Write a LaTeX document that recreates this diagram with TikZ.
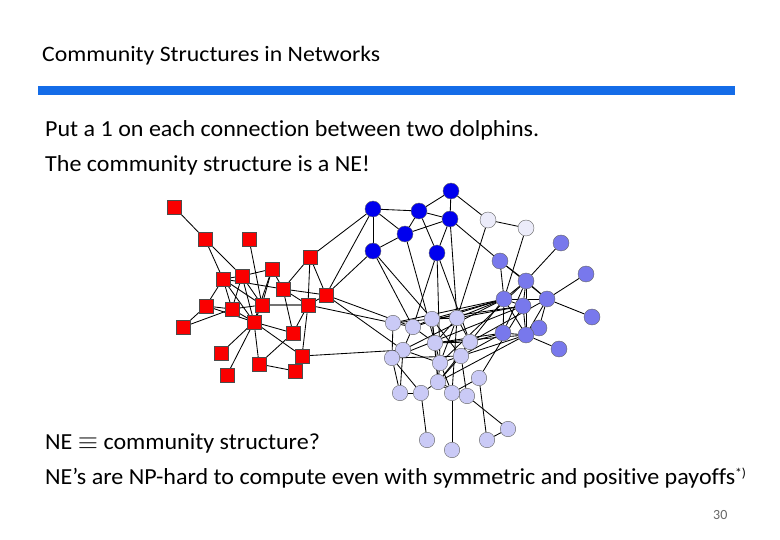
\documentclass[tikz,border=0pt]{standalone}
\usepackage{fontspec}
\usepackage{graphicx}
\setmainfont[Ligatures=NoCommon]{Carlito}
\usetikzlibrary{backgrounds}
\definecolor{barblue}{RGB}{20,108,232}
\definecolor{dblue}{RGB}{0,0,238}
\definecolor{mblue}{RGB}{120,120,236}
\definecolor{lblue}{RGB}{202,202,246}
\definecolor{wblue}{RGB}{236,236,250}
\definecolor{sqred}{RGB}{250,0,0}
\begin{document}
\begin{tikzpicture}[x=1pt,y=-1pt,
  redsq/.style={rectangle,fill=sqred,draw=black!70,line width=0.4pt,minimum size=13.5pt,inner sep=0pt},
  circ/.style={circle,draw=black!60,line width=0.4pt,minimum size=16pt,inner sep=0pt},
  bnode/.style={circ,fill=dblue},
  mnode/.style={circ,fill=mblue},
  lnode/.style={circ,fill=lblue,minimum size=15.5pt},
  wnode/.style={circ,fill=wblue},
  edge/.style={line width=0.85pt,black},
  txt/.style={anchor=base west,inner sep=0pt},
  body/.style={txt,font=\fontsize{23}{27}\selectfont}]
\useasboundingbox (0,0) rectangle (780,540);
% texts
\node[txt,font=\fontsize{22}{26}\selectfont] (title) at (42,62) {\scalebox{1.08}[1]{Community Structures in Networks}};
\fill[barblue] (38,86) rectangle (735,95.5);
\node[body] (t1) at (45,137) {\scalebox{1.045}[1]{Put a 1 on each connection between two dolphins.}};
\node[body] (t2) at (45,172) {\scalebox{1.045}[1]{The community structure is a NE!}};
\node[body] (t3) at (45,449) {\scalebox{1.045}[1]{NE $\equiv$ community structure?}};
\node[body] (t4) at (45,484) {\scalebox{1.045}[1]{NE’s are NP-hard to compute even with symmetric and positive payoffs\raisebox{7pt}{\fontsize{13}{13}\selectfont *)}}};
\node[txt,font=\fontsize{14}{16}\selectfont,text=black!60] (pg) at (713,519) {30};
% red
\node[redsq] (r1) at (174,207) {};
\node[redsq] (r2) at (205,239) {};
\node[redsq] (r3) at (249,239) {};
\node[redsq] (r4) at (223,279) {};
\node[redsq] (r5) at (242,276) {};
\node[redsq] (r6) at (272,269) {};
\node[redsq] (r7) at (310,257) {};
\node[redsq] (r8) at (283,289) {};
\node[redsq] (r9) at (326,295) {};
\node[redsq] (r10) at (206,306) {};
\node[redsq] (r11) at (232,309) {};
\node[redsq] (r12) at (262,305) {};
\node[redsq] (r13) at (308,305) {};
\node[redsq] (r14) at (254,322) {};
\node[redsq] (r15) at (183,327) {};
\node[redsq] (r16) at (293,333) {};
\node[redsq] (r17) at (221,353) {};
\node[redsq] (r18) at (302,356) {};
\node[redsq] (r19) at (259,364) {};
\node[redsq] (r20) at (227,375) {};
\node[redsq] (r21) at (295,371) {};
% dark blue
\node[bnode] (b1) at (451,191) {};
\node[bnode] (b2) at (373,209) {};
\node[bnode] (b3) at (419,211) {};
\node[bnode] (b4) at (450,219) {};
\node[bnode] (b5) at (405,234) {};
\node[bnode] (b6) at (373,251) {};
\node[bnode] (b7) at (437,253) {};
\node[wnode] (w1) at (488,220) {};
\node[wnode] (w2) at (526,228) {};
% medium
\node[mnode] (m1) at (561,243) {};
\node[mnode] (m2) at (500,261) {};
\node[mnode] (m3) at (526,281) {};
\node[mnode] (m4) at (586,274) {};
\node[mnode] (m5) at (504,299) {};
\node[mnode] (m6) at (547,299) {};
\node[mnode] (m7) at (523,306) {};
\node[mnode] (m8) at (539,328) {};
\node[mnode] (m9) at (503,333) {};
\node[mnode] (m10) at (526,335) {};
\node[mnode] (m11) at (592,317) {};
\node[mnode] (m12) at (559,349) {};
% light
\node[lnode] (l1) at (393,323) {};
\node[lnode] (l2) at (413,327) {};
\node[lnode] (l3) at (432,319) {};
\node[lnode] (l4) at (457,318) {};
\node[lnode] (l5) at (435,343) {};
\node[lnode] (l6) at (470,342) {};
\node[lnode] (l7) at (403,350) {};
\node[lnode] (l8) at (392,358) {};
\node[lnode] (l9) at (461,356) {};
\node[lnode] (l10) at (440,363) {};
\node[lnode] (l11) at (479,378) {};
\node[lnode] (l12) at (438,382) {};
\node[lnode] (l13) at (400,393) {};
\node[lnode] (l14) at (421,393) {};
\node[lnode] (l15) at (452,393) {};
\node[lnode] (l16) at (467,396) {};
\node[lnode] (l17) at (427,440) {};
\node[lnode] (l18) at (452,450) {};
\node[lnode] (l19) at (487,440) {};
\node[lnode] (l20) at (508,429) {};
\begin{pgfonlayer}{background}
\draw[line width=2pt,black!55] (r12) -- (r13);
\foreach \a/\b in {r1/r2,r2/r4,r2/r5,r3/r12,r4/r5,r5/r6,r4/r10,r4/r11,r4/r14,r4/r12,r4/r8,
  r5/r11,r5/r14,r5/r12,r6/r8,r6/r12,r6/r14,r7/r8,r7/r13,r7/r9,r8/r9,r8/r13,r8/r16,r9/r13,
  r10/r15,r10/r11,r10/r14,r11/r14,r11/r12,r12/r14,r14/r17,r14/r19,r14/r20,r14/r16,r14/r18,
  r16/r13,r18/r13,r19/r21,r19/r16,r11/r15,
  r7/b2,r9/b2,r9/b6,r9/l2,r13/l1,r18/l7,r9/l7,
  b2/b3,b2/b6,b2/b5,b3/b4,b3/b7,b3/b1,b3/b5,b4/b5,b4/b7,b1/b4,b5/b6,b1/w1,w1/w2,
  b4/l4,b4/m2,b6/l2,b6/l3,b5/l5,b7/l10,b7/l6,b7/l2,w1/l4,w2/m5,m2/m6,
  m1/m3,m2/m3,m2/m5,m3/m5,m3/m6,m3/m7,m3/m9,m3/m10,m4/m6,m6/m11,m6/m5,m6/m8,m6/m10,
  m5/m7,m5/m9,m5/m10,m7/m10,m8/m10,m9/m10,m10/m12,
  m5/l1,m5/l2,m5/l3,m5/l4,m5/l7,m5/l6,m9/l6,m9/l9,m10/l9,m10/l5,m7/l11,m10/l12,m3/l10,m6/l6,
  m7/l3,m7/l4,m7/l8,m9/l5,
  l1/l2,l1/l8,l1/l3,l2/l3,l2/l5,l2/l7,l3/l4,l3/l5,l3/l9,l4/l5,l4/l6,l4/l10,l5/l6,l5/l10,
  l5/l12,l6/l9,l7/l8,l7/l13,l7/l10,l8/l13,l8/l14,l9/l10,l9/l12,l9/l16,l10/l12,l10/l15,
  l12/l14,l12/l15,l12/l16,l15/l16,l15/l18,l14/l17,l11/l19,l16/l20,l19/l20,l13/l14,l8/l9,
  l6/l12,l11/l15,l3/l12,l4/l15}
  \draw[edge] (\a) -- (\b);
\end{pgfonlayer}
\end{tikzpicture}
\end{document}
